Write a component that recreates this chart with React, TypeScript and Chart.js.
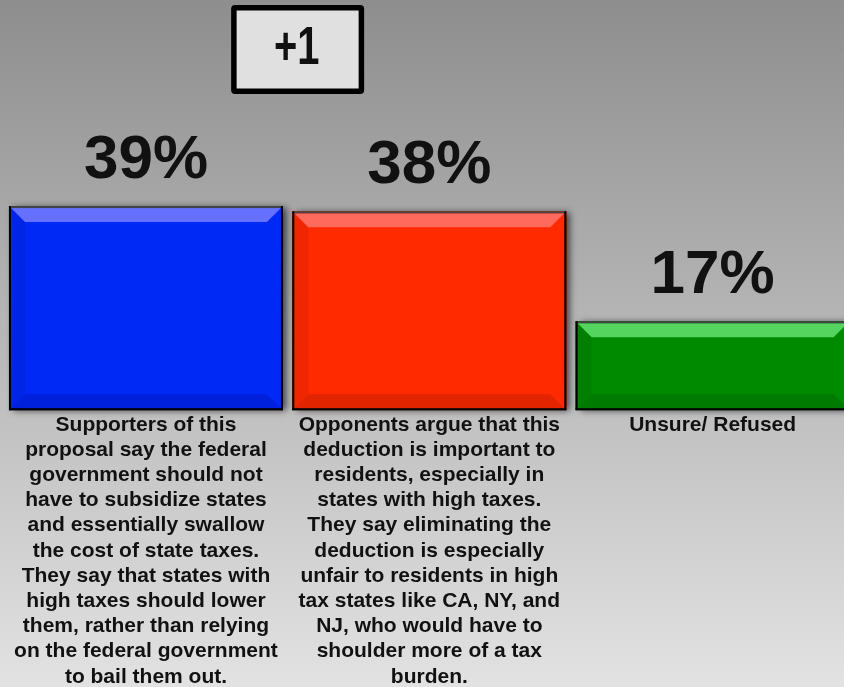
import React, { useEffect, useRef } from 'react';
import { Chart, registerables } from 'chart.js';

Chart.register(...registerables);

// ---- data ----
const categories: string[][] = [
  [
    'Supporters of this',
    'proposal say the federal',
    'government should not',
    'have to subsidize states',
    'and essentially swallow',
    'the cost of state taxes.',
    'They say that states with',
    'high taxes should lower',
    'them, rather than relying',
    'on the federal government',
    'to bail them out.',
  ],
  [
    'Opponents argue that this',
    'deduction is important to',
    'residents, especially in',
    'states with high taxes.',
    'They say eliminating the',
    'deduction is especially',
    'unfair to residents in high',
    'tax states like CA, NY, and',
    'NJ, who would have to',
    'shoulder more of a tax',
    'burden.',
  ],
  ['Unsure/ Refused'],
];
const values: number[] = [39, 38, 17];
const yMax = 60;

// ---- styles ----
const FONT = '"Liberation Sans", Arial, Helvetica, sans-serif';
const barColors = ['#0029f5', '#ff2a00', '#008a00'];
const topBevel = ['#6670ff', '#ff6a5c', '#55d45f'];
const leftBevel = ['#0025e6', '#f02600', '#007f00'];
const bottomBevel = ['#0021dc', '#e22400', '#007a00'];

const W = 858;
const H = 700;
const VIEW_H = 687;

const bgPlugin = {
  id: 'bgGradient',
  beforeDraw(chart: any) {
    const ctx = chart.ctx;
    const g = ctx.createLinearGradient(0, 0, 0, VIEW_H);
    g.addColorStop(0, '#8e8e8e');
    g.addColorStop(1, '#e2e2e2');
    ctx.save();
    ctx.fillStyle = g;
    ctx.fillRect(0, 0, chart.width, chart.height);
    ctx.restore();
  },
};

const barStylePlugin = {
  id: 'barStyle',
  beforeDatasetsDraw(chart: any) {
    const ctx = chart.ctx;
    const meta = chart.getDatasetMeta(0);
    ctx.save();
    meta.data.forEach((el: any) => {
      const left = el.x - el.width / 2;
      ctx.shadowColor = 'rgba(0,0,0,0.65)';
      ctx.shadowBlur = 7;
      ctx.shadowOffsetX = 4;
      ctx.shadowOffsetY = 1;
      ctx.fillStyle = '#000';
      ctx.fillRect(left, el.y, el.width, el.base - el.y);
    });
    ctx.restore();
  },
  afterDatasetsDraw(chart: any) {
    const ctx = chart.ctx;
    const meta = chart.getDatasetMeta(0);
    ctx.save();
    meta.data.forEach((el: any, i: number) => {
      const left = el.x - el.width / 2;
      const right = el.x + el.width / 2;
      const top = el.y;
      const bottom = el.base;
      const b = 2;
      const d = 14;
      const L = left + b, R = right - b, T = top + b, B = bottom - b;
      const poly = (pts: number[][], color: string) => {
        ctx.beginPath();
        ctx.moveTo(pts[0][0], pts[0][1]);
        for (let k = 1; k < pts.length; k++) ctx.lineTo(pts[k][0], pts[k][1]);
        ctx.closePath();
        ctx.fillStyle = color;
        ctx.fill();
      };
      poly([[L, T], [L + d, T + d], [L + d, B - d], [L, B]], leftBevel[i]);
      poly([[L, B], [L + d, B - d], [R - d, B - d], [R, B]], bottomBevel[i]);
      poly([[L, T], [R, T], [R - d, T + d], [L + d, T + d]], topBevel[i]);
      // borders
      ctx.fillStyle = '#444';
      ctx.fillRect(left, top, right - left, b);
      ctx.fillStyle = '#000';
      ctx.fillRect(left, top, b, bottom - top);
      ctx.fillRect(right - b, top, b, bottom - top);
      ctx.fillRect(left, bottom - b, right - left, b);

      // value label
      ctx.fillStyle = '#111';
      ctx.font = `bold 62px ${FONT}`;
      ctx.textAlign = 'center';
      ctx.textBaseline = 'alphabetic';
      ctx.fillText(`${values[i]}%`, el.x, top - 28);
    });

    // difference box
    const x0 = meta.data[0].x;
    const x1 = meta.data[1].x;
    const cx = (x0 + x1) / 2 + 10;
    const bw = 133;
    const bh = 89;
    const bx = cx - bw / 2;
    const by = 5;
    ctx.fillStyle = '#000';
    ctx.beginPath();
    (ctx as any).roundRect(bx, by, bw, bh, 4);
    ctx.fill();
    ctx.fillStyle = '#e0e0e0';
    ctx.fillRect(bx + 5.5, by + 5.5, bw - 11, bh - 11);
    const diff = values[0] - values[1];
    const txt = `${diff > 0 ? '+' : ''}${diff}`;
    ctx.save();
    ctx.translate(cx - 1, by + bh / 2 - 1.5);
    ctx.scale(1.05, 1.42);
    ctx.fillStyle = '#111';
    ctx.font = `bold 38px ${FONT}`;
    ctx.textAlign = 'center';
    ctx.textBaseline = 'middle';
    ctx.fillText(txt, 0, 1);
    ctx.restore();
    ctx.restore();
  },
};

export default function App() {
  const ref = useRef<HTMLCanvasElement | null>(null);
  useEffect(() => {
    if (!ref.current) return;
    const chart = new Chart(ref.current, {
      type: 'bar',
      data: {
        labels: categories,
        datasets: [
          {
            data: values,
            backgroundColor: barColors,
            borderWidth: 0,
            barPercentage: 0.967,
            categoryPercentage: 1,
          },
        ],
      },
      options: {
        responsive: false,
        animation: false,
        devicePixelRatio: 1,
        layout: { padding: { left: 4.3, right: 3.7, top: 96.2, bottom: 8.6 } },
        plugins: {
          legend: { display: false },
          tooltip: { enabled: false },
        },
        scales: {
          x: {
            grid: { display: false, drawTicks: false },
            border: { display: false },
            ticks: {
              color: '#111',
              padding: 2,
              autoSkip: false,
              maxRotation: 0,
              minRotation: 0,
              font: { family: FONT, size: 21, weight: 'bold', lineHeight: 1.2 },
            },
          },
          y: { display: false, min: 0, max: yMax },
        },
      },
      plugins: [bgPlugin, barStylePlugin],
    } as any);
    return () => chart.destroy();
  }, []);
  return (
    <div
      style={{
        position: 'fixed',
        left: 0,
        top: 0,
        width: 844,
        height: VIEW_H,
        overflow: 'hidden',
        background: '#bbb',
      }}
    >
      <canvas ref={ref} width={W} height={H} style={{ display: 'block', width: W, height: H }} />
    </div>
  );
}
